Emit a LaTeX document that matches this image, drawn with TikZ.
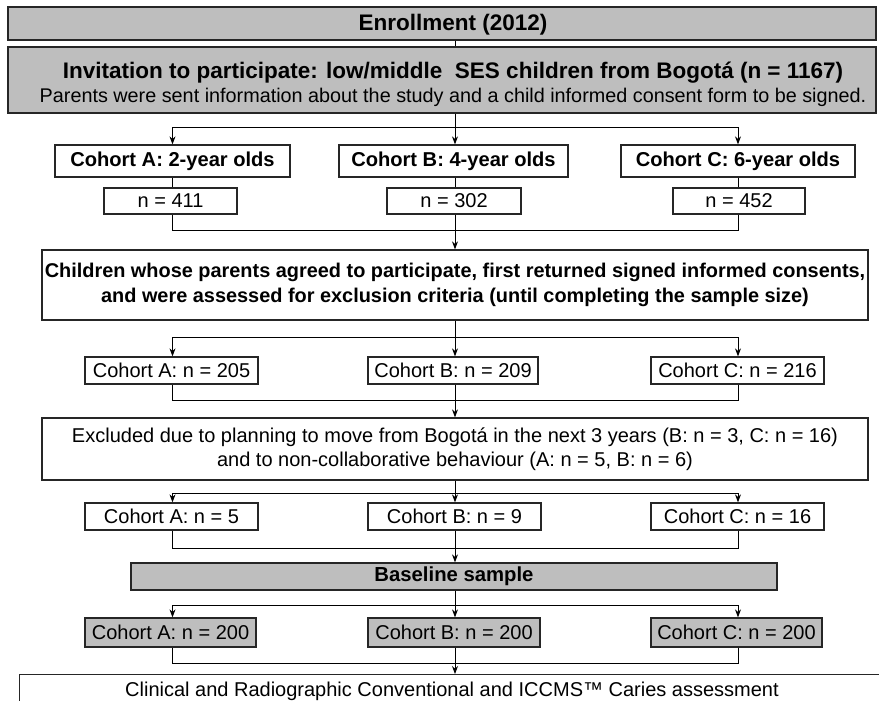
\documentclass[tikz,border=0pt]{standalone}
\usepackage{fontspec}
\setmainfont{Liberation Sans}
\usetikzlibrary{arrows.meta}
\definecolor{boxgray}{RGB}{190,190,190}
\tikzset{
  box/.style={draw=black!85, line width=1.3pt, inner sep=0pt, align=center,
    font=\fontsize{20}{24}\selectfont},
  gbox/.style={box, fill=boxgray},
  bbox/.style={box, font=\fontsize{20.1}{25}\selectfont\bfseries},
  txt/.style={inner sep=0pt, align=center, font=\fontsize{20}{24}\selectfont},
  conn/.style={draw=black, line width=0.9pt},
  arr/.style={conn, -{Stealth[length=8pt,width=6pt]}}
}
\begin{document}
\begin{tikzpicture}[x=1pt,y=-1pt]
\useasboundingbox (0,0) rectangle (879,701);
\fill[white] (0,0) rectangle (879,701);
% top boxes
\node[gbox, minimum width=868pt, minimum height=33pt] (enr) at (442,23.5) {};
\node[txt, font=\fontsize{22.5}{24}\selectfont\bfseries] (enrt) at (453,24.5) {Enrollment (2012)};
\node[gbox, minimum width=868pt, minimum height=66pt] (inv) at (442,80) {};
\node[txt] (invt) at (453,84.5)
  {{\fontsize{22.5}{25}\selectfont\bfseries Invitation to participate: low/middle\ \ SES children from Bogot\'a (n = 1167)}\\[0pt]
   {\fontsize{19.8}{24}\selectfont Parents were sent information about the study and a child informed consent form to be signed.}};
% cohorts
\node[bbox, minimum width=235pt, minimum height=32pt] (cA) at (172.5,161) {Cohort A: 2-year olds};
\node[bbox, minimum width=229pt, minimum height=32pt] (cB) at (453.5,161) {Cohort B: 4-year olds};
\node[bbox, minimum width=234pt, minimum height=32pt] (cC) at (738,161) {Cohort C: 6-year olds};
\node[box, minimum width=133pt, minimum height=26pt] (nA) at (170.5,201) {n = 411};
\node[box, minimum width=134pt, minimum height=26pt] (nB) at (454,201) {n = 302};
\node[box, minimum width=132pt, minimum height=26pt] (nC) at (739,201) {n = 452};
% children
\node[bbox, font=\fontsize{19.9}{25}\selectfont\bfseries, minimum width=826pt, minimum height=70pt] (ch) at (455,285)
  {Children whose parents agreed to participate, first returned signed informed consents,\\
   and were assessed for exclusion criteria (until completing the sample size)};
\node[box, minimum width=173pt, minimum height=27pt] (aA) at (171.5,370.5) {Cohort A: n = 205};
\node[box, minimum width=170pt, minimum height=27pt] (aB) at (453,370.5) {Cohort B: n = 209};
\node[box, minimum width=173pt, minimum height=27pt] (aC) at (737.5,370.5) {Cohort C: n = 216};
% excluded
\node[box, minimum width=826pt, minimum height=62pt] (ex) at (455,449)
  {Excluded due to planning to move from Bogot\'a in the next 3 years (B: n = 3, C: n = 16)\\
   and to non-collaborative behaviour (A: n = 5, B: n = 6)};
\node[box, minimum width=173pt, minimum height=27pt] (eA) at (171.5,516.5) {Cohort A: n = 5};
\node[box, minimum width=173pt, minimum height=27pt] (eB) at (454.5,516.5) {Cohort B: n = 9};
\node[box, minimum width=173pt, minimum height=27pt] (eC) at (737.5,516.5) {Cohort C: n = 16};
% baseline
\node[gbox, font=\fontsize{20.3}{24}\selectfont\bfseries, minimum width=646pt, minimum height=27pt] (base) at (454,576.5) {Baseline sample};
\node[gbox, minimum width=171pt, minimum height=29pt] (bA) at (170.5,632.5) {Cohort A: n = 200};
\node[gbox, minimum width=172pt, minimum height=29pt] (bB) at (454,632.5) {Cohort B: n = 200};
\node[gbox, minimum width=171pt, minimum height=29pt] (bC) at (736.5,632.5) {Cohort C: n = 200};
% clinical
\node[box, minimum width=880pt, minimum height=40pt, anchor=north west] (cl) at (19,674) {};
\node[txt] (clt) at (452,691)
  {Clinical and Radiographic Conventional and ICCMS\texttrademark\ Caries assessment};
% connectors
\coordinate (s1) at (455,127);
\coordinate (j1) at (455,230);
\coordinate (s2) at (455,337);
\coordinate (j2) at (455,400);
\coordinate (s3) at (455,493);
\coordinate (j3) at (455,548);
\coordinate (s4) at (455,605);
\coordinate (j4) at (455,663);
\draw[conn] (enr.south -| s1) -- (inv.north -| s1);
% split 1
\draw[conn] (inv.south -| s1) -- (s1);
\draw[arr] (s1) -| (cA.north);
\draw[arr] (s1) -- (cB.north -| s1);
\draw[arr] (s1) -| (cC.north);
\draw[conn] (cA.south) -- (nA.north -| cA.south);
\draw[conn] (cB.south -| s1) -- (nB.north -| s1);
\draw[conn] (cC.south) -- (nC.north -| cC.south);
\draw[conn] (nA.south -| cA.south) |- (j1);
\draw[conn] (nC.south -| cC.south) |- (j1);
\draw[arr] (nB.south -| s1) -- (ch.north);
% split 2
\draw[conn] (ch.south) -- (s2);
\draw[arr] (s2) -| (cA.south |- aA.north);
\draw[arr] (s2) -- (aB.north -| s2);
\draw[arr] (s2) -| (cC.south |- aC.north);
\draw[conn] (cA.south |- aA.south) |- (j2);
\draw[conn] (cC.south |- aC.south) |- (j2);
\draw[arr] (aB.south -| s2) -- (ex.north);
% split 3
\draw[conn] (ex.south) -- (s3);
\draw[arr] (s3) -| (cA.south |- eA.north);
\draw[arr] (s3) -- (eB.north -| s3);
\draw[arr] (s3) -| (cC.south |- eC.north);
\draw[conn] (cA.south |- eA.south) |- (j3);
\draw[conn] (cC.south |- eC.south) |- (j3);
\draw[arr] (eB.south -| s3) -- (base.north -| s3);
% split 4
\draw[conn] (base.south -| s4) -- (s4);
\draw[arr] (s4) -| (cA.south |- bA.north);
\draw[arr] (s4) -- (bB.north -| s4);
\draw[arr] (s4) -| (cC.south |- bC.north);
\draw[conn] (cA.south |- bA.south) |- (j4);
\draw[conn] (cC.south |- bC.south) |- (j4);
\draw[arr] (bB.south -| s4) -- (cl.north -| s4);
\end{tikzpicture}
\end{document}
